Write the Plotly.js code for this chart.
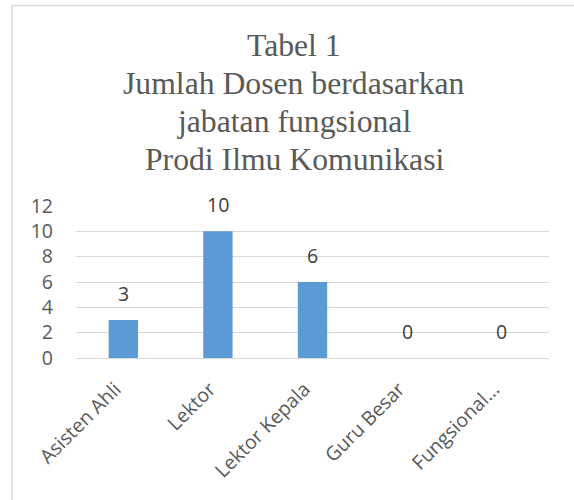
<!DOCTYPE html>
<html>
<head>
<meta charset="utf-8">
<script src="https://cdn.plot.ly/plotly-3.0.1.min.js"></script>
<style>
html,body{margin:0;padding:0;background:#fff;}
#chart{width:574px;height:500px;}
</style>
</head>
<body>
<div id="chart"></div>
<script>
const categories = ["Asisten Ahli", "Lektor", "Lektor Kepala", "Guru Besar", "Fungsional..."];
const values = [3, 10, 6, 0, 0];
const yTicks = [0, 2, 4, 6, 8, 10, 12];
const titleLines = ["Tabel 1", "Jumlah Dosen berdasarkan", "jabatan fungsional", "Prodi Ilmu Komunikasi"];

const sansFamily = "Open Sans, Liberation Sans, sans-serif";
const tickFont = {family: sansFamily, size: 19.5, color: "#595959"};

// pixel helpers for the plot area (l=76, width 473; top=206, height 152)
const PX = px => (px - 76) / 473;
const PY = py => (358 - py) / 152;

const trace = {
  type: "bar",
  x: categories,
  y: values,
  marker: {color: "#5B9BD5"},
  hoverinfo: "none"
};

const valueLabels = categories.map((c, i) => ({
  x: c, y: values[i], xref: "x", yref: "y",
  text: String(values[i]),
  showarrow: false,
  yanchor: "bottom",
  yshift: 11,
  font: {family: sansFamily, size: 19.5, color: "#404040"}
}));

const titleAnnotations = titleLines.map((t, i) => ({
  text: t,
  xref: "paper", yref: "paper",
  x: PX(294), xanchor: "center",
  y: PY(46 + i * 37.7), yanchor: "middle",
  showarrow: false,
  font: {family: "Liberation Serif, Times New Roman, serif", size: 31.7, color: "#595959"}
}));

const layout = {
  width: 574, height: 500,
  margin: {l: 76, r: 25, t: 206, b: 142},
  paper_bgcolor: "#ffffff",
  plot_bgcolor: "#ffffff",
  showlegend: false,
  bargap: 0.69,
  xaxis: {
    tickangle: -45,
    tickfont: tickFont,
    showgrid: false,
    showline: false,
    zeroline: false,
    ticks: "",
    ticklabelstandoff: 15,
    ticklabelshift: -8
  },
  yaxis: {
    range: [0, 12],
    tickvals: yTicks,
    ticktext: yTicks.map(String),
    tickfont: tickFont,
    gridcolor: "#D9D9D9",
    gridwidth: 1,
    zeroline: true,
    zerolinecolor: "#D9D9D9",
    zerolinewidth: 1,
    showline: false,
    ticks: "",
    ticklabelstandoff: 22
  },
  annotations: titleAnnotations.concat(valueLabels),
  shapes: [{
    type: "rect", xref: "paper", yref: "paper",
    x0: PX(12), x1: PX(600),
    y0: PY(520), y1: PY(5.5),
    line: {color: "#D9D9D9", width: 1.5},
    fillcolor: "rgba(0,0,0,0)",
    layer: "below"
  }]
};

Plotly.newPlot("chart", [trace], layout, {displayModeBar: false, staticPlot: true});
</script>
</body>
</html>
